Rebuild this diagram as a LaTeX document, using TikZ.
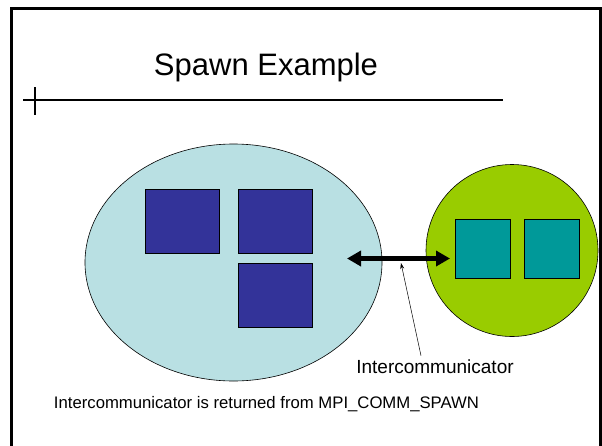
\documentclass[tikz,border=0pt]{standalone}
\usepackage{fontspec}
\setmainfont{Liberation Sans}
\usetikzlibrary{positioning,shapes,arrows.meta}

\definecolor{parentbg}{HTML}{B9E0E3}
\definecolor{childbg}{HTML}{99CC00}
\definecolor{parentproc}{HTML}{333399}
\definecolor{childproc}{HTML}{009999}

\begin{document}
\begin{tikzpicture}[x=1pt,y=-1pt,
                    group/.style={draw=black,line width=0.6pt},
                    pproc/.style={draw=black,fill=parentproc,line width=0.6pt,minimum width=74pt,minimum height=64pt,inner sep=0pt},
                    cproc/.style={draw=black,fill=childproc,line width=0.6pt,minimum width=55pt,minimum height=59pt,inner sep=0pt}]
                    \useasboundingbox (0,0) rectangle (602,445);
                    \draw[line width=3pt] (11.7,450) -- (11.7,8.7) -- (600,8.7) -- (600,450);
                    \node[anchor=base,font=\fontsize{31}{36}\selectfont] (title) at (266,75) {Spawn Example};
                    \coordinate (rl) at (23,100);
                    \coordinate (rr) at (503,100);
                    \coordinate (tt) at (35,87);
                    \coordinate (tb) at (35,115);
                    \draw[line width=1.5pt] (rl) -- (rr);
                    \draw[line width=1.5pt] (tt) -- (tb);
                    \node[group,shape=ellipse,fill=parentbg,minimum width=297pt,minimum height=237pt] (parent) at (233.5,262.5) {};
                    \node[group,shape=circle,fill=childbg,minimum size=172pt] (child) at (512,250.5) {};
                    \node[pproc] (p1) at (182,221) {};
                    \node[pproc,right=19pt of p1] (p2) {};
                    \node[pproc,below=10pt of p2] (p3) {};
                    \node[cproc] (c1) at (482.5,248.5) {};
                    \node[cproc,right=14pt of c1] (c2) {};
                    \coordinate (il) at (347,258.5);
                    \coordinate (ir) at (450,258.5);
                    \coordinate (im) at (401,263);
                    \draw[{Triangle[length=14pt,width=15pt]}-{Triangle[length=14pt,width=15pt]},line width=4.5pt] (il) -- (ir);
                    \node[anchor=base,font=\fontsize{19}{22}\selectfont] (lbl) at (435,373) {Intercommunicator};
                    \draw[-{Stealth[length=6pt,width=4pt]},line width=0.5pt] ([xshift=-14pt]lbl.north) -- (im);
                    \node[anchor=base,font=\fontsize{16.7}{20}\selectfont] (note) at (266.5,408) {Intercommunicator is returned from MPI\_COMM\_SPAWN};
                \end{tikzpicture}
\end{document}
